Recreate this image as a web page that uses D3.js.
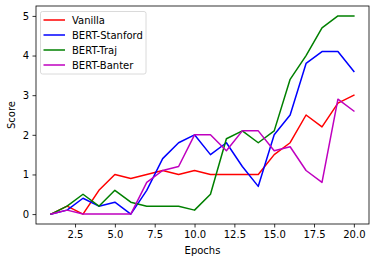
<!DOCTYPE html>
<html><head><meta charset="utf-8">
<script src="https://cdn.jsdelivr.net/npm/d3@7"></script>
<style>body{margin:0;background:#fff}svg{display:block}text{font-family:"DejaVu Sans",sans-serif}</style>
</head><body>
<script>
const epochs = [1,2,3,4,5,6,7,8,9,10,11,12,13,14,15,16,17,18,19,20];
const vanilla = [0,0.2,0,0.6,1.0,0.9,1.0,1.1,1.0,1.1,1.0,1.0,1.0,1.0,1.5,1.8,2.5,2.2,2.8,3.0];
const bertStanford = [0,0.1,0.4,0.2,0.3,0,0.6,1.4,1.8,2.0,1.5,1.8,1.2,0.7,2.0,2.5,3.8,4.1,4.1,3.6];
const bertTraj = [0,0.2,0.5,0.2,0.6,0.3,0.2,0.2,0.2,0.1,0.5,1.9,2.1,1.8,2.1,3.4,4.0,4.7,5.0,5.0];
const bertBanter = [0,0.1,0,0,0,0,0.8,1.1,1.2,2.0,2.0,1.6,2.1,2.1,1.6,1.7,1.1,0.8,2.9,2.6];
const seriesNames = ["Vanilla","BERT-Stanford","BERT-Traj","BERT-Banter"];
const seriesColors = ["#ff0000","#0000ff","#008000","#bf00bf"];
const xTicks = [2.5,5.0,7.5,10.0,12.5,15.0,17.5,20.0];
const yTicks = [0,1,2,3,4,5];

const W=376,H=262, L=36, R=369, T=6, B=224;
const svg = d3.select("body").append("svg").attr("width",W).attr("height",H);
const x = d3.scaleLinear().domain([0.05,20.95]).range([L,R]);
const y = d3.scaleLinear().domain([-0.25,5.25]).range([B,T]);

const xa = svg.append("g").attr("transform",`translate(0,${B})`)
  .call(d3.axisBottom(x).tickValues(xTicks).tickFormat(d3.format(".1f")).tickSize(3.5).tickPadding(3.5));
const ya = svg.append("g").attr("transform",`translate(${L},0)`)
  .call(d3.axisLeft(y).tickValues(yTicks).tickFormat(d3.format("d")).tickSize(3.5).tickPadding(3.5));
[xa,ya].forEach(a=>{a.select(".domain").remove();a.selectAll("text").attr("font-size",10).attr("fill","#000").style("font-family","DejaVu Sans");a.selectAll("line").attr("stroke","#000").attr("stroke-width",0.8);});

const data = [vanilla,bertStanford,bertTraj,bertBanter];
const line = d3.line().x((d,i)=>x(epochs[i])).y(d=>y(d));
data.forEach((s,k)=>{
  svg.append("path").datum(s).attr("d",line).attr("fill","none")
    .attr("stroke",seriesColors[k]).attr("stroke-width",1.5).attr("stroke-linejoin","round").attr("stroke-linecap","square");
});

svg.append("rect").attr("x",L).attr("y",T).attr("width",R-L).attr("height",B-T)
  .attr("fill","none").attr("stroke","#000").attr("stroke-width",0.8);

svg.append("text").attr("x",(L+R)/2).attr("y",254).attr("text-anchor","middle").attr("font-size",10).text("Epochs");
svg.append("text").attr("transform",`translate(15,${(T+B)/2}) rotate(-90)`).attr("text-anchor","middle").attr("font-size",10).text("Score");

const lg = svg.append("g");
lg.append("rect").attr("x",40.5).attr("y",11.5).attr("width",105.5).attr("height",62.5).attr("rx",2)
  .attr("fill","#fff").attr("fill-opacity",0.8).attr("stroke","#d0d0d0").attr("stroke-width",0.8);
seriesNames.forEach((n,i)=>{
  const yy = 20 + i*15;
  lg.append("line").attr("x1",43.5).attr("x2",65).attr("y1",yy).attr("y2",yy).attr("stroke",seriesColors[i]).attr("stroke-width",1.5);
  lg.append("text").attr("x",72).attr("y",yy+3.6).attr("font-size",10).text(n);
});
</script>
</body></html>
